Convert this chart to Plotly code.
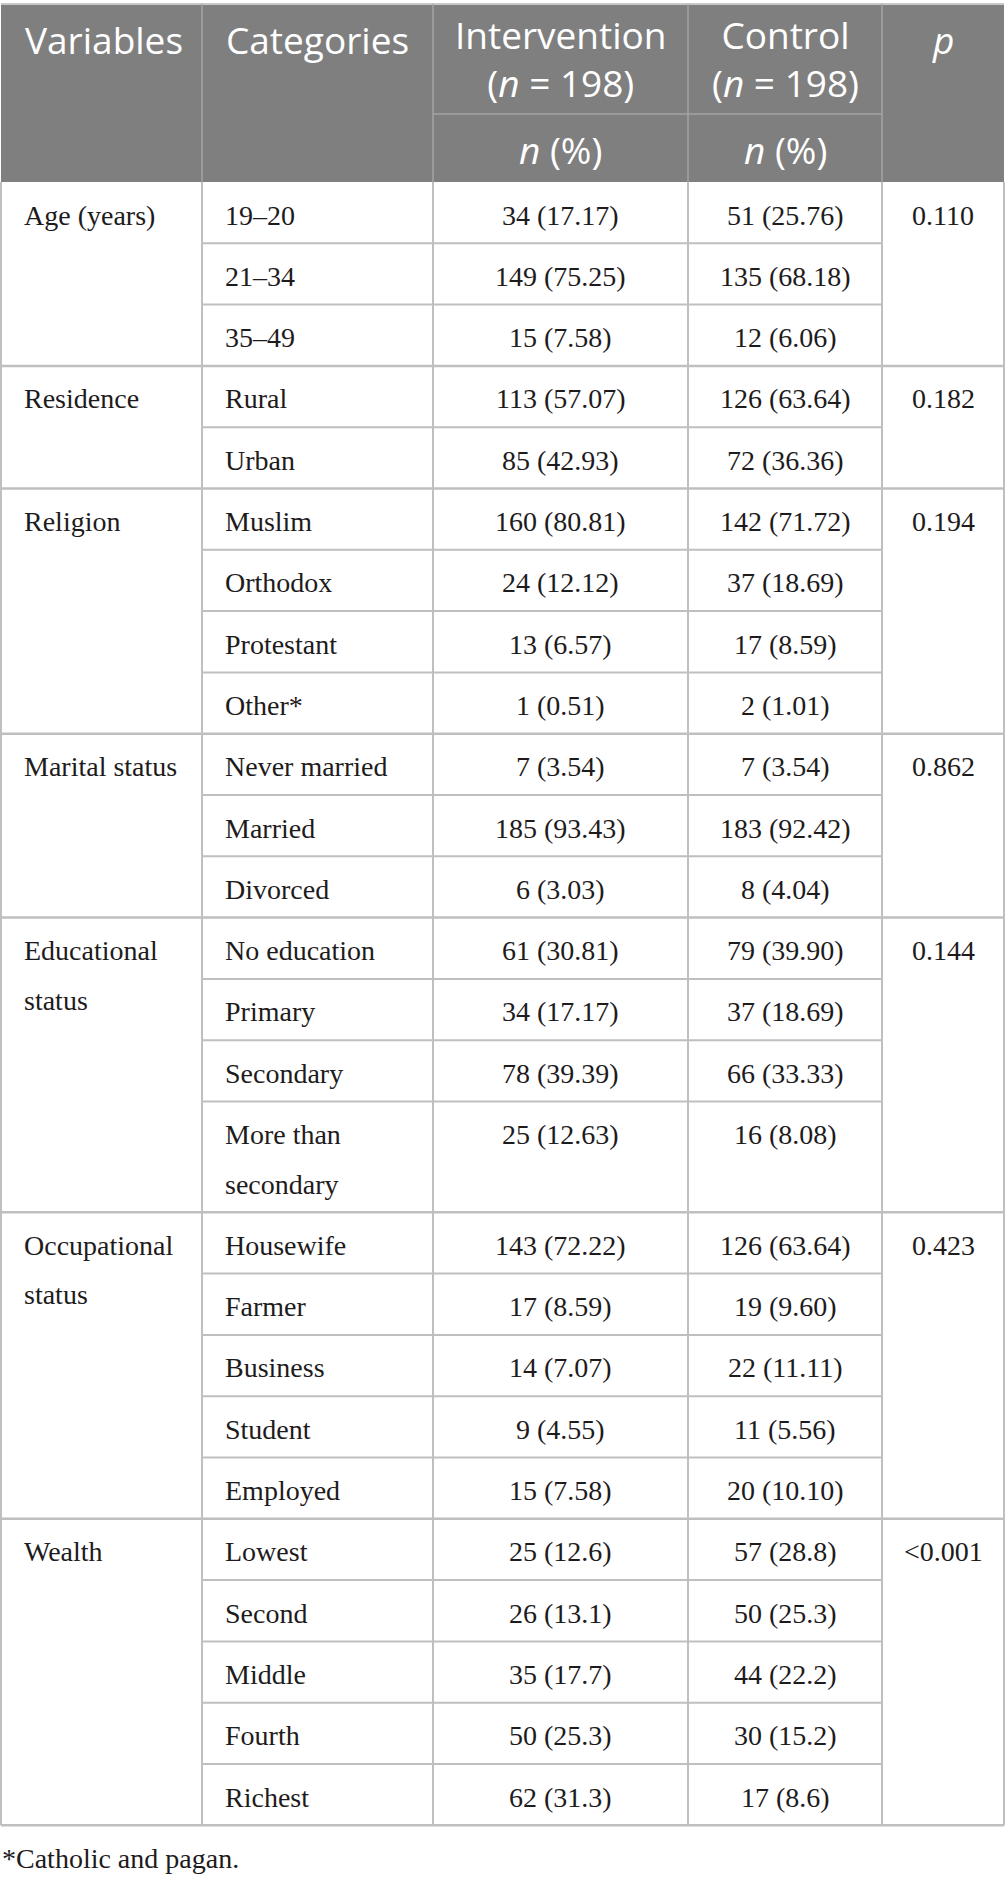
import plotly.graph_objects as go

# table content
variables = ["Age (years)", "Residence", "Religion", "Marital status",
             "Educational<br>status", "Occupational<br>status", "Wealth"]
categories = [
    ["19–20", "21–34", "35–49"],
    ["Rural", "Urban"],
    ["Muslim", "Orthodox", "Protestant", "Other*"],
    ["Never married", "Married", "Divorced"],
    ["No education", "Primary", "Secondary", "More than<br>secondary"],
    ["Housewife", "Farmer", "Business", "Student", "Employed"],
    ["Lowest", "Second", "Middle", "Fourth", "Richest"],
]
intervention = [
    ["34 (17.17)", "149 (75.25)", "15 (7.58)"],
    ["113 (57.07)", "85 (42.93)"],
    ["160 (80.81)", "24 (12.12)", "13 (6.57)", "1 (0.51)"],
    ["7 (3.54)", "185 (93.43)", "6 (3.03)"],
    ["61 (30.81)", "34 (17.17)", "78 (39.39)", "25 (12.63)"],
    ["143 (72.22)", "17 (8.59)", "14 (7.07)", "9 (4.55)", "15 (7.58)"],
    ["25 (12.6)", "26 (13.1)", "35 (17.7)", "50 (25.3)", "62 (31.3)"],
]
control = [
    ["51 (25.76)", "135 (68.18)", "12 (6.06)"],
    ["126 (63.64)", "72 (36.36)"],
    ["142 (71.72)", "37 (18.69)", "17 (8.59)", "2 (1.01)"],
    ["7 (3.54)", "183 (92.42)", "8 (4.04)"],
    ["79 (39.90)", "37 (18.69)", "66 (33.33)", "16 (8.08)"],
    ["126 (63.64)", "19 (9.60)", "22 (11.11)", "11 (5.56)", "20 (10.10)"],
    ["57 (28.8)", "50 (25.3)", "44 (22.2)", "30 (15.2)", "17 (8.6)"],
]
p_values = ["0.110", "0.182", "0.194", "0.862", "0.144", "0.423", "<0.001"]
header_top = ["Variables", "Categories", "Intervention<br>(<i>n</i> = 198)",
              "Control<br>(<i>n</i> = 198)", "<i>p</i>"]
header_sub = ["", "", "<i>n</i> (%)", "<i>n</i> (%)", ""]
footnote = "*Catholic and pagan."

# layout constants (pixels)
W, H = 1005, 1883
col_edges = [1, 202, 433, 688, 882, 1004]
head_y0, head_mid, head_y1 = 4, 114, 182
row_h, line_h = 61.3, 49.5
pad = 22
text_dy = 33  # first text line centre below the top of its row
body_font = dict(family="Liberation Serif", size=28, color="#1e1b1c")
head_font = dict(family="Open Sans", size=37, color="#ffffff")
grid = "#bfbfbf"

fig = go.Figure()
shapes = []
annots = []


def text(x, y, s, font, anchor="left"):
    annots.append(dict(x=x, y=y, xref="x", yref="y", text=s, showarrow=False,
                       xanchor=anchor, yanchor="middle", font=font))


def wrapped(x, y, s, font):
    # one annotation per line so the line spacing matches the table
    for k, part in enumerate(s.split("<br>")):
        text(x, y + k * line_h, part, font)


def line(x0, y0, x1, y1, color=grid, width=2):
    shapes.append(dict(type="line", xref="x", yref="y", x0=x0, y0=y0, x1=x1, y1=y1,
                       line=dict(color=color, width=width)))


# header block
shapes.append(dict(type="rect", xref="x", yref="y", x0=col_edges[0], x1=col_edges[-1],
                   y0=head_y0, y1=head_y1, fillcolor="#7f7f7f", line=dict(width=0),
                   layer="below"))
line(col_edges[0], head_y0, col_edges[-1], head_y0, "#c8c8c8", 2)
for x in col_edges[1:-1]:
    line(x, head_y0, x, head_y1, "#a3a3a3", 1.5)
line(col_edges[2], head_mid, col_edges[4], head_mid, "#a3a3a3", 1.5)
for i in range(5):
    cx = (col_edges[i] + col_edges[i + 1]) / 2
    if i < 2:
        text(col_edges[i] + pad, 39, header_top[i], head_font)
    elif "<br>" in header_top[i]:
        text(cx, 58, header_top[i], head_font, "center")
    else:
        text(cx, 39, header_top[i], head_font, "center")
    if header_sub[i]:
        text(cx, 149, header_sub[i], head_font, "center")

# body rows
y = head_y1
for g, var in enumerate(variables):
    wrapped(col_edges[0] + pad - 1, y + text_dy, var, body_font)
    text((col_edges[4] + col_edges[5]) / 2, y + text_dy, p_values[g], body_font, "center")
    for r, cat in enumerate(categories[g]):
        wrapped(col_edges[1] + pad - 1, y + text_dy, cat, body_font)
        text((col_edges[2] + col_edges[3]) / 2, y + text_dy, intervention[g][r], body_font, "center")
        text((col_edges[3] + col_edges[4]) / 2, y + text_dy, control[g][r], body_font, "center")
        y += row_h + cat.count("<br>") * line_h
        if r < len(categories[g]) - 1:
            line(col_edges[1], y, col_edges[4], y, grid, 2)
    line(col_edges[0], y, col_edges[-1], y, grid, 2.5)
table_bottom = y

for x in col_edges:
    line(x, head_y1, x, table_bottom, grid, 2)

text(0, table_bottom + text_dy, footnote, body_font)

fig.update_layout(
    width=W, height=H,
    margin=dict(l=0, r=0, t=0, b=0),
    paper_bgcolor="white", plot_bgcolor="white",
    shapes=shapes, annotations=annots,
    xaxis=dict(range=[0, W], visible=False, fixedrange=True),
    yaxis=dict(range=[H, 0], visible=False, fixedrange=True),
    showlegend=False,
)

# drop the default page margin so the figure sits at the window's corner
fig.write_html("out.html", config={"displayModeBar": False},
               post_script="document.body.style.margin='0';"
                           "document.body.style.overflow='hidden';")
